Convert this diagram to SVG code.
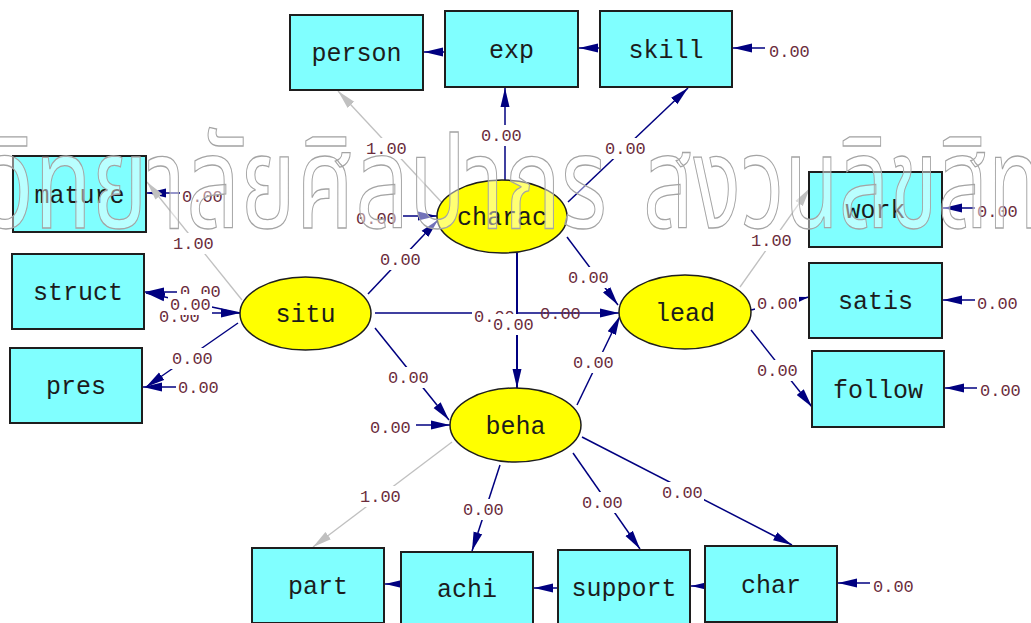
<svg xmlns="http://www.w3.org/2000/svg" width="1031" height="623" viewBox="0 0 1031 623">
<defs>
<style>
.box{fill:#80ffff;stroke:#1e1e1e;stroke-width:2}
.ell{fill:#ffff00;stroke:#1e1e1e;stroke-width:1.5}
.t{font-family:"Liberation Mono","Courier New",monospace;font-size:25px;fill:#1c1c1c;text-anchor:middle}
.n{font-family:"Liberation Mono","Courier New",monospace;font-size:17px;fill:#6b2c3c}
.bg{fill:#ffffff}
.p{stroke:#000080;stroke-width:1.5;fill:none;marker-end:url(#ah)}
.g{stroke:#c0c0c0;stroke-width:1.3;fill:none;marker-end:url(#ag)}
.wm{font-family:"Noto Sans Thai","Noto Sans","DejaVu Sans",sans-serif;font-size:128px;font-weight:normal;fill:#ffffff;fill-opacity:0.45;stroke:#a4a4a4;stroke-width:1.3}
</style>
<marker id="ah" viewBox="0 -5 20 10" refX="19" refY="0" markerWidth="20" markerHeight="10" markerUnits="userSpaceOnUse" orient="auto"><path d="M0,-4.5 L19,0 L0,4.5 Z" fill="#000080"/></marker>
<marker id="ag" viewBox="0 -5 20 10" refX="19" refY="0" markerWidth="20" markerHeight="10" markerUnits="userSpaceOnUse" orient="auto"><path d="M0,-4.5 L19,0 L0,4.5 Z" fill="#c0c0c0"/></marker>
</defs>
<rect width="1031" height="623" fill="#ffffff"/>
<g id="connectors">
<line class="p" x1="460" y1="52" x2="424" y2="52"/>
<line class="p" x1="612" y1="48" x2="579" y2="48"/>
<line class="p" x1="765" y1="48" x2="733" y2="48"/>
<line class="p" x1="180" y1="193" x2="147" y2="193"/>
<line class="p" x1="177" y1="292" x2="145" y2="292"/>
<line class="p" x1="176" y1="387" x2="143" y2="387"/>
<line class="p" x1="975" y1="208" x2="943" y2="208"/>
<line class="p" x1="975" y1="300" x2="943" y2="300"/>
<line class="p" x1="977" y1="388" x2="945" y2="388"/>
<line class="p" x1="412" y1="584" x2="385" y2="584"/>
<line class="p" x1="566" y1="588" x2="534" y2="588"/>
<line class="p" x1="714" y1="586" x2="691" y2="586"/>
<line class="p" x1="870" y1="583" x2="838" y2="583"/>
<line class="p" x1="403" y1="216" x2="437" y2="216"/>
<line class="p" x1="416" y1="425" x2="450" y2="425"/>
<line class="p" x1="205" y1="313" x2="240" y2="313"/>
<line class="p" x1="505" y1="180" x2="505" y2="88"/>
<line class="p" x1="568" y1="202" x2="688" y2="88"/>
<line class="g" x1="446" y1="207" x2="338" y2="91"/>
<line class="p" x1="368" y1="294" x2="438" y2="220"/>
<line class="p" x1="567" y1="237" x2="618" y2="305"/>
<line class="p" x1="517" y1="253" x2="517" y2="388" style="stroke-width:2"/>
<line class="p" x1="375" y1="313" x2="619" y2="313"/>
<line class="p" x1="375" y1="328" x2="449" y2="420"/>
<line class="p" x1="577" y1="405" x2="620" y2="316"/>
<line class="g" x1="242" y1="300" x2="147" y2="182"/>
<line class="p" x1="240" y1="313" x2="146" y2="293"/>
<line class="p" x1="238" y1="323" x2="146" y2="387"/>
<line class="g" x1="740" y1="287" x2="810" y2="188"/>
<line class="p" x1="751" y1="310" x2="809" y2="297"/>
<line class="p" x1="751" y1="330" x2="812" y2="407"/>
<line class="g" x1="452" y1="442" x2="313" y2="547"/>
<line class="p" x1="500" y1="465" x2="472" y2="551"/>
<line class="p" x1="573" y1="453" x2="640" y2="549"/>
<line class="p" x1="582" y1="437" x2="792" y2="545"/>
</g>
<g id="labels">
<rect class="bg" x="767" y="41" width="44" height="21"/><text class="n" x="769" y="57">0.00</text>
<rect class="bg" x="479" y="125" width="44" height="21"/><text class="n" x="481" y="141">0.00</text>
<rect class="bg" x="364" y="138" width="44" height="21"/><text class="n" x="366" y="154">1.00</text>
<rect class="bg" x="603" y="138" width="44" height="21"/><text class="n" x="605" y="154">0.00</text>
<rect class="bg" x="354" y="208" width="44" height="21"/><text class="n" x="356" y="224">0.00</text>
<rect class="bg" x="378" y="249" width="44" height="21"/><text class="n" x="380" y="265">0.00</text>
<rect class="bg" x="566" y="267" width="44" height="21"/><text class="n" x="568" y="283">0.00</text>
<rect class="bg" x="472" y="306" width="44" height="21"/><text class="n" x="474" y="322">0.00</text>
<rect class="bg" x="491" y="314" width="44" height="21"/><text class="n" x="493" y="330">0.00</text>
<text class="n" x="540" y="319">0.00</text>
<rect class="bg" x="386" y="367" width="44" height="21"/><text class="n" x="388" y="383">0.00</text>
<rect class="bg" x="368" y="417" width="44" height="21"/><text class="n" x="370" y="433">0.00</text>
<rect class="bg" x="571" y="352" width="44" height="21"/><text class="n" x="573" y="368">0.00</text>
<rect class="bg" x="180" y="186" width="44" height="21"/><text class="n" x="182" y="202">0.00</text>
<rect class="bg" x="171" y="233" width="44" height="21"/><text class="n" x="173" y="249">1.00</text>
<rect class="bg" x="178" y="281" width="44" height="21"/><text class="n" x="180" y="297">0.00</text>
<rect class="bg" x="157" y="306" width="44" height="21"/><text class="n" x="159" y="322">0.00</text>
<rect class="bg" x="168" y="294" width="44" height="21"/><text class="n" x="170" y="310">0.00</text>
<rect class="bg" x="170" y="348" width="44" height="21"/><text class="n" x="172" y="364">0.00</text>
<rect class="bg" x="176" y="377" width="44" height="21"/><text class="n" x="178" y="393">0.00</text>
<rect class="bg" x="749" y="230" width="44" height="21"/><text class="n" x="751" y="246">1.00</text>
<rect class="bg" x="975" y="201" width="44" height="21"/><text class="n" x="977" y="217">0.00</text>
<rect class="bg" x="755" y="293" width="44" height="21"/><text class="n" x="757" y="309">0.00</text>
<rect class="bg" x="975" y="293" width="44" height="21"/><text class="n" x="977" y="309">0.00</text>
<rect class="bg" x="755" y="360" width="44" height="21"/><text class="n" x="757" y="376">0.00</text>
<rect class="bg" x="978" y="380" width="44" height="21"/><text class="n" x="980" y="396">0.00</text>
<rect class="bg" x="358" y="486" width="44" height="21"/><text class="n" x="360" y="502">1.00</text>
<rect class="bg" x="461" y="499" width="44" height="21"/><text class="n" x="463" y="515">0.00</text>
<rect class="bg" x="580" y="492" width="44" height="21"/><text class="n" x="582" y="508">0.00</text>
<rect class="bg" x="660" y="482" width="44" height="21"/><text class="n" x="662" y="498">0.00</text>
<rect class="bg" x="871" y="576" width="44" height="21"/><text class="n" x="873" y="592">0.00</text>
</g>
<g id="person"><rect class="box" x="290" y="15" width="133" height="75"/><text class="t" x="356.5" y="61">person</text></g>
<g id="exp"><rect class="box" x="445" y="11" width="133" height="76"/><text class="t" x="511.5" y="57.5">exp</text></g>
<g id="skill"><rect class="box" x="600" y="11" width="132" height="76"/><text class="t" x="666" y="57.5">skill</text></g>
<g id="mature"><rect class="box" x="13" y="156" width="133" height="76"/><text class="t" x="79.5" y="202.5">mature</text></g>
<g id="struct"><rect class="box" x="12" y="254" width="132" height="75"/><text class="t" x="78" y="300">struct</text></g>
<g id="pres"><rect class="box" x="10" y="348" width="132" height="75"/><text class="t" x="76" y="394">pres</text></g>
<g id="work"><rect class="box" x="809" y="172" width="133" height="75"/><text class="t" x="875.5" y="218">work</text></g>
<g id="satis"><rect class="box" x="809" y="263" width="133" height="75"/><text class="t" x="875.5" y="309">satis</text></g>
<g id="follow"><rect class="box" x="812" y="351" width="132" height="76"/><text class="t" x="878" y="397.5">follow</text></g>
<g id="part"><rect class="box" x="252" y="548" width="132" height="75"/><text class="t" x="318" y="594">part</text></g>
<g id="achi"><rect class="box" x="401" y="552" width="132" height="75"/><text class="t" x="467" y="597">achi</text></g>
<g id="support"><rect class="box" x="558" y="550" width="132" height="75"/><text class="t" x="624" y="596">support</text></g>
<g id="char"><rect class="box" x="705" y="546" width="132" height="76"/><text class="t" x="771" y="592.5">char</text></g>
<g id="situ"><ellipse class="ell" cx="305.5" cy="313.5" rx="65.5" ry="36.5"/><text class="t" x="305.5" y="322">situ</text></g>
<g id="charac"><ellipse class="ell" cx="502" cy="216.5" rx="65" ry="36.5"/><text class="t" x="502" y="225">charac</text></g>
<g id="lead"><ellipse class="ell" cx="685" cy="312" rx="66" ry="37"/><text class="t" x="685" y="320.5">lead</text></g>
<g id="beha"><ellipse class="ell" cx="515.5" cy="425" rx="65.5" ry="37"/><text class="t" x="515.5" y="433.5">beha</text></g>
<g id="watermark">
<text class="wm" x="-12" y="228" textLength="619" lengthAdjust="spacingAndGlyphs">วิทยาลัยศิลปากร</text>
<text class="wm" x="643" y="228" textLength="447" lengthAdjust="spacingAndGlyphs">สงวนลิขสิทธิ์</text>
</g>
</svg>
